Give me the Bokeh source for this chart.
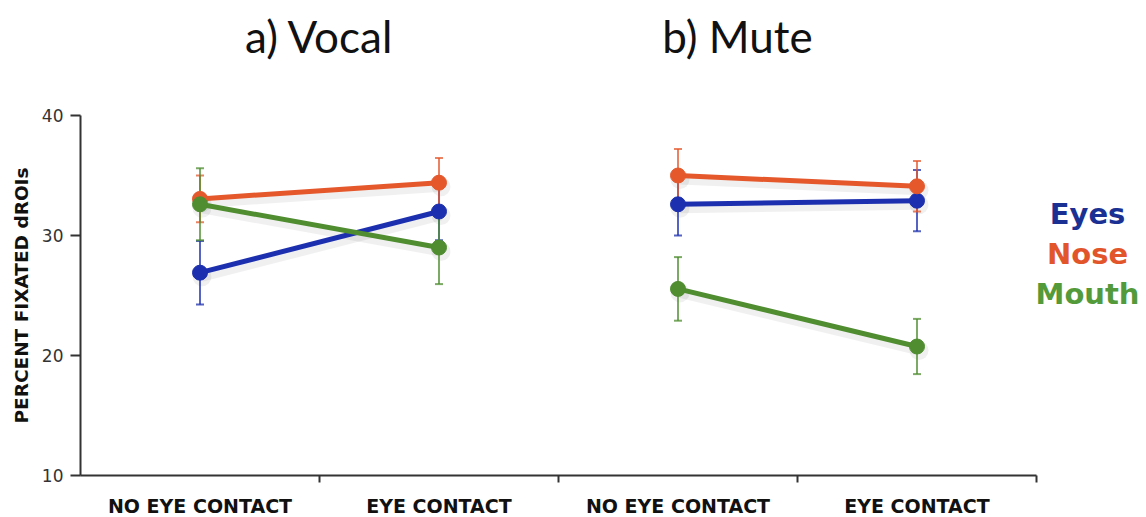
from math import pi

from bokeh.plotting import figure
from bokeh.models import Range1d, ColumnDataSource
from bokeh.core.properties import value
from bokeh.embed import file_html
from bokeh.resources import INLINE

# Conditions and the two contact categories within each
conditions = ["a) Vocal", "b) Mute"]
tick_labels = ["NO EYE CONTACT", "EYE CONTACT", "NO EYE CONTACT", "EYE CONTACT"]
y_ticks = [10, 20, 30, 40]
y_title = "PERCENT FIXATED dROIs"

# Mean percent of fixated dROIs (Vocal: no/eye contact, Mute: no/eye contact)
eyes_mean = [26.9, 32.0, 32.6, 32.9]
eyes_err = [2.65, 2.4, 2.6, 2.55]
nose_mean = [33.05, 34.4, 35.0, 34.1]
nose_err = [1.95, 2.05, 2.2, 2.1]
mouth_mean = [32.6, 29.0, 25.55, 20.75]
mouth_err = [3.0, 3.05, 2.65, 2.3]

series = [
    ("Eyes", eyes_mean, eyes_err, "#1c2fae", "#1a3193"),
    ("Nose", nose_mean, nose_err, "#e4582c", "#e2552b"),
    ("Mouth", mouth_mean, mouth_err, "#4f8d30", "#539a3a"),
]

# page geometry (pixels); the plotting frame fills the whole canvas and the
# axes are drawn as glyphs so that titles and names can sit outside the data box
W, H = 1146, 517
LEFT, RIGHT, TOP, BOTTOM = 80, 110, 115, 42
n_cat = len(tick_labels)
y_min, y_max = y_ticks[0], y_ticks[-1]
px_x = (W - LEFT - RIGHT) / n_cat
px_y = (H - TOP - BOTTOM) / (y_max - y_min)

centers = [i + 0.5 for i in range(n_cat)]
bounds = [i + 1 for i in range(n_cat)]

p = figure(
    width=W, height=H,
    x_range=Range1d(-LEFT / px_x, n_cat + RIGHT / px_x),
    y_range=Range1d(y_min - BOTTOM / px_y, y_max + TOP / px_y),
    output_backend="svg", toolbar_location=None,
    x_axis_location=None, y_axis_location=None,
    min_border=0,
)
p.outline_line_color = None
p.grid.visible = False
p.background_fill_color = "white"
p.border_fill_color = "white"

AX = "#333333"

# axis lines
p.line([0, n_cat], [y_min, y_min], line_color=AX, line_width=2)
p.line([0, 0], [y_min, y_max], line_color=AX, line_width=2)

# x: tick marks at category boundaries, labels at category centres
p.ray(x=bounds, y=[y_min] * len(bounds), length=7, length_units="screen",
      angle=-pi / 2, line_color=AX, line_width=2)
p.text(x=centers, y=[y_min] * n_cat, text=tick_labels, y_offset=30,
       text_align="center", text_baseline="middle",
       text_font=value("DejaVu Sans"), text_font_style="bold",
       text_font_size=value("19px"), text_color="#111111")

# y: ticks, tick labels and title
p.ray(x=[0] * len(y_ticks), y=y_ticks, length=10, length_units="screen",
      angle=pi, line_color=AX, line_width=2)
p.text(x=[0] * len(y_ticks), y=y_ticks, text=[str(t) for t in y_ticks],
       x_offset=-17, text_align="right", text_baseline="middle",
       text_font=value("DejaVu Sans"), text_font_size=value("17px"),
       text_color="#333333")
p.text(x=[0], y=[(y_min + y_max) / 2], text=[y_title], angle=pi / 2,
       x_offset=-59, text_align="center", text_baseline="middle",
       text_font=value("DejaVu Sans"), text_font_style="bold",
       text_font_size=value("18.5px"), text_color="#111111")

# soft drop shadows beneath the series lines
sh_dx, sh_dy = 2 / px_x, -4 / px_y
for name, mean, err, color, _ in series:
    for k in range(len(conditions)):
        xs = [x + sh_dx for x in centers[2 * k:2 * k + 2]]
        ys = [y + sh_dy for y in mean[2 * k:2 * k + 2]]
        p.line(xs, ys, line_color="#000000", line_width=10, line_alpha=0.06)
        p.scatter(xs, ys, size=19, fill_color="#000000", fill_alpha=0.06,
                  line_color=None)

# error bars, then lines and markers, one segment per condition panel
for name, mean, err, color, _ in series:
    lo = [m - e for m, e in zip(mean, err)]
    hi = [m + e for m, e in zip(mean, err)]
    src = ColumnDataSource(dict(x=centers, lo=lo, hi=hi))
    p.segment(x0="x", y0="lo", x1="x", y1="hi", source=src,
              line_color=color, line_width=2, line_alpha=0.75)
    p.scatter(x="x", y="lo", source=src, marker="dash", size=8,
              line_color=color, line_width=2, line_alpha=0.75)
    p.scatter(x="x", y="hi", source=src, marker="dash", size=8,
              line_color=color, line_width=2, line_alpha=0.75)

for name, mean, err, color, _ in series:
    for k in range(len(conditions)):
        xs = centers[2 * k:2 * k + 2]
        ys = mean[2 * k:2 * k + 2]
        p.line(xs, ys, line_color=color, line_width=5)
        p.scatter(xs, ys, size=15, fill_color=color, line_color=color)

# panel titles above each pair of categories
title_px = [319, 737]
p.text(x=[(t - LEFT) / px_x for t in title_px],
       y=[y_max + (TOP - 35) / px_y] * len(conditions), text=conditions,
       text_align="center", text_baseline="middle",
       text_font=value("Lato"), text_font_size=value("44px"),
       text_color="#111111")

# colour-coded series names on the right
names = [s[0] for s in series]
p.text(x=[n_cat + (1087 - (W - RIGHT)) / px_x] * len(series),
       y=[y_max - (213 - TOP + 40 * i) / px_y for i in range(len(series))],
       text=names, text_color=[s[4] for s in series],
       text_align="center", text_baseline="middle",
       text_font=value("DejaVu Sans"), text_font_style="bold",
       text_font_size=value("29px"))

open("out.html", "w").write(file_html(p, INLINE))
